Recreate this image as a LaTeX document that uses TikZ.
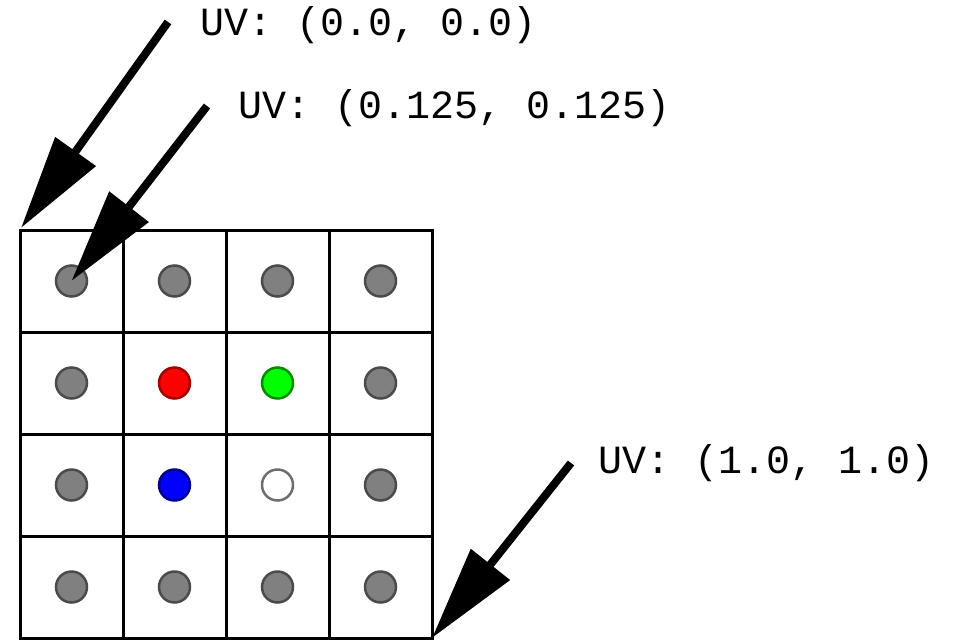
\documentclass[tikz,border=0pt]{standalone}
\usepackage{fontspec}
\newfontfamily\uvfont{Liberation Mono}
\usetikzlibrary{arrows.meta}
\definecolor{dotgray}{RGB}{128,128,128}
\definecolor{dotgrayb}{RGB}{75,75,75}
\definecolor{dotred}{RGB}{255,0,0}
\definecolor{dotredb}{RGB}{160,0,0}
\definecolor{dotgreen}{RGB}{0,255,0}
\definecolor{dotgreenb}{RGB}{0,140,0}
\definecolor{dotblue}{RGB}{0,0,255}
\definecolor{dotblueb}{RGB}{0,0,130}
\definecolor{dotwhiteb}{RGB}{110,110,110}
\begin{document}
\begin{tikzpicture}[x=1pt,y=-1pt,
  cell/.style={draw=black,line width=3pt,minimum width=103pt,minimum height=102pt,inner sep=0pt,outer sep=0pt},
  dot/.style={circle,line width=2.5pt,minimum size=31pt,inner sep=0pt},
  graydot/.style={dot,draw=dotgrayb,fill=dotgray},
  uvlabel/.style={anchor=base west,inner sep=0pt,font=\uvfont\fontsize{40}{48}\selectfont},
  bigarrow/.style={line width=8pt,-{Triangle[length=94pt,width=48pt]}}]
\useasboundingbox (0,0) rectangle (953,640);
\fill[white] (0,0) rectangle (953,640);
% grid cells
\foreach \c in {1,2,3,4}{
  \foreach \r in {1,2,3,4}{
    \node[cell] (c\r\c) at ({20+103*(\c-0.5)},{230+102*(\r-0.5)}) {};
  }
}
% dots
\node[graydot] (d11) at (c11) {};
\node[graydot] (d12) at (c12) {};
\node[graydot] (d13) at (c13) {};
\node[graydot] (d14) at (c14) {};
\node[graydot] (d21) at (c21) {};
\node[dot,draw=dotredb,fill=dotred] (d22) at (c22) {};
\node[dot,draw=dotgreenb,fill=dotgreen] (d23) at (c23) {};
\node[graydot] (d24) at (c24) {};
\node[graydot] (d31) at (c31) {};
\node[dot,draw=dotblueb,fill=dotblue] (d32) at (c32) {};
\node[dot,draw=dotwhiteb,fill=white] (d33) at (c33) {};
\node[graydot] (d34) at (c34) {};
\node[graydot] (d41) at (c41) {};
\node[graydot] (d42) at (c42) {};
\node[graydot] (d43) at (c43) {};
\node[graydot] (d44) at (c44) {};
% labels
\node[uvlabel] (l1) at (200,35) {UV: (0.0, 0.0)};
\node[uvlabel] (l2) at (238,118) {UV: (0.125, 0.125)};
\node[uvlabel] (l3) at (598,473) {UV: (1.0, 1.0)};
% arrow tails
\coordinate (t1) at (168,22);
\coordinate (t2) at (207,106);
\coordinate (t3) at (571,463);
% arrows
\draw[bigarrow] (t1) -- ([shift={(1,-2)}]c11.north west);
\draw[bigarrow] (t2) -- (d11.center);
\draw[bigarrow] (t3) -- (c44.south east);
\end{tikzpicture}
\end{document}
